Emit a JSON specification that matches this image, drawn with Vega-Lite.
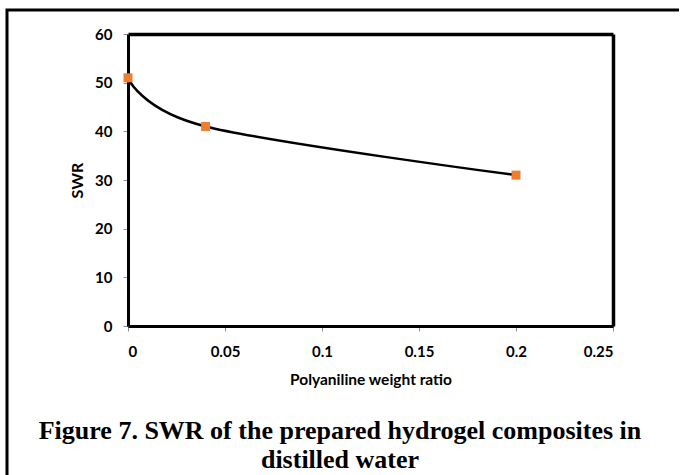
{
  "$schema": "https://vega.github.io/schema/vega-lite/v6.json",
  "width": 674,
  "height": 465,
  "autosize": {"type": "none"},
  "padding": {"left": 7, "top": 10, "right": 0, "bottom": 0},
  "background": "white",
  "config": {
    "view": {"stroke": "black", "strokeWidth": 3, "strokeDash": [672, 1141, 470, 0]},
    "axis": {"grid": false, "labelFont": "Lato", "titleFont": "Lato", "labelFontWeight": "bold", "titleFontWeight": "bold", "labelColor": "black", "titleColor": "black"}
  },
  "title": {
    "text": ["Figure 7. SWR of the prepared hydrogel composites in", "distilled water"],
    "orient": "bottom",
    "anchor": "middle",
    "frame": "group",
    "offset": -57.5,
    "dx": -4,
    "font": "Liberation Serif",
    "fontSize": 26,
    "fontWeight": "bold",
    "lineHeight": 29,
    "color": "black"
  },
  "data": {"values": [
    {"ratio": 0, "swr": 51},
    {"ratio": 0.04, "swr": 41},
    {"ratio": 0.2, "swr": 31}
  ]},
  "layer": [
    {
      "mark": {"type": "line", "interpolate": "cardinal", "color": "black", "strokeWidth": 2.5},
      "encoding": {
        "x": {"field": "ratio", "type": "quantitative",
          "scale": {"domain": [0, 0.25], "range": [121, 606], "nice": false, "zero": false},
          "axis": {"orient": "bottom", "offset": -149, "values": [0, 0.05, 0.1, 0.15, 0.2, 0.25], "format": "~g",
            "domainColor": "black", "domainWidth": 3, "tickColor": "#8c8c8c", "tickSize": 5, "tickWidth": 1,
            "labelFontSize": 15, "labelPadding": 13, "title": "Polyaniline weight ratio", "titleFontSize": 15.5, "titlePadding": 13}},
        "y": {"field": "swr", "type": "quantitative",
          "scale": {"domain": [0, 60], "range": [316, 24], "nice": false, "zero": false},
          "axis": {"orient": "left", "offset": -121, "values": [0, 10, 20, 30, 40, 50, 60],
            "domainColor": "black", "domainWidth": 3, "tickColor": "#8c8c8c", "tickSize": 5, "tickWidth": 1,
            "labelFontSize": 15, "labelPadding": 11, "title": "SWR", "titleFontSize": 16, "titlePadding": 9}}
      }
    },
    {
      "mark": {"type": "point", "shape": "square", "filled": true, "size": 81, "color": "#ED7D31", "opacity": 1},
      "encoding": {
        "x": {"field": "ratio", "type": "quantitative",
          "axis": {"orient": "top", "offset": -24, "labels": false, "ticks": false, "title": null, "domainColor": "black", "domainWidth": 3.5}},
        "y": {"field": "swr", "type": "quantitative",
          "axis": {"orient": "right", "offset": -68, "labels": false, "ticks": false, "title": null, "domainColor": "black", "domainWidth": 3.5}}
      }
    }
  ],
  "resolve": {"axis": {"x": "independent", "y": "independent"}}
}
